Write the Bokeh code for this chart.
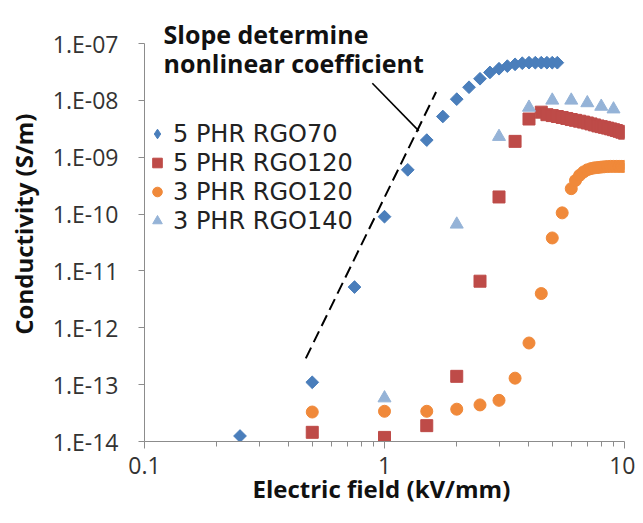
import math
from bokeh.plotting import figure
from bokeh.models import Range1d, FixedTicker, CustomJSTickFormatter, Label, Legend
from bokeh.embed import file_html
from bokeh.resources import INLINE

# ---------------- data ----------------
series_names = ["5 PHR RGO70", "5 PHR RGO120", "3 PHR RGO120", "3 PHR RGO140"]

x_rgo70_5 = [0.25, 0.5, 0.75, 1.0, 1.25, 1.5, 1.75, 2.0, 2.25, 2.5, 2.75, 3.0, 3.25, 3.5,
             3.75, 4.0, 4.25, 4.5, 4.75, 5.0, 5.25]
y_rgo70_5 = [1.25e-14, 1.1e-13, 5.2e-12, 9.0e-11, 6.0e-10, 2.0e-9, 5.2e-9, 1.05e-8, 1.7e-8,
             2.4e-8, 3.1e-8, 3.6e-8, 4.0e-8, 4.3e-8, 4.5e-8, 4.6e-8, 4.6e-8, 4.6e-8, 4.6e-8,
             4.6e-8, 4.6e-8]

x_rgo120_5 = [0.5, 1.0, 1.5, 2.0, 2.5, 3.0, 3.5, 4.0, 4.5, 4.75, 5.0, 5.25, 5.5, 5.75, 6.0,
              6.25, 6.5, 6.75, 7.0, 7.25, 7.5, 7.75, 8.0, 8.25, 8.5, 8.75, 9.0, 9.25, 9.5,
              9.75, 10.0]
y_rgo120_5 = [1.45e-14, 1.18e-14, 1.9e-14, 1.4e-13, 6.6e-12, 2.0e-10, 1.9e-9, 4.7e-9, 6.2e-9,
              5.6e-9, 5.4e-9, 5.2e-9, 5.0e-9, 4.8e-9, 4.6e-9, 4.45e-9, 4.3e-9, 4.15e-9, 4.0e-9,
              3.85e-9, 3.7e-9, 3.55e-9, 3.45e-9, 3.35e-9, 3.25e-9, 3.15e-9, 3.05e-9, 2.95e-9,
              2.85e-9, 2.75e-9, 2.65e-9]

x_rgo120_3 = [0.5, 1.0, 1.5, 2.0, 2.5, 3.0, 3.5, 4.0, 4.5, 5.0, 5.5, 6.0, 6.25, 6.5, 6.75,
              7.0, 7.25, 7.5, 7.75, 8.0, 8.25, 8.5, 8.75, 9.0, 9.25, 9.5, 9.75, 10.0]
y_rgo120_3 = [3.3e-14, 3.4e-14, 3.4e-14, 3.7e-14, 4.4e-14, 5.3e-14, 1.3e-13, 5.4e-13, 4.0e-12,
              3.8e-11, 1.05e-10, 2.8e-10, 3.9e-10, 4.8e-10, 5.5e-10, 6.0e-10, 6.3e-10, 6.5e-10,
              6.6e-10, 6.7e-10, 6.8e-10, 6.85e-10, 6.9e-10, 6.9e-10, 6.9e-10, 6.9e-10, 6.9e-10,
              6.9e-10]

x_rgo140_3 = [1.0, 2.0, 3.0, 4.0, 5.0, 6.0, 7.0, 8.0, 9.0]
y_rgo140_3 = [5.8e-14, 6.6e-11, 2.3e-9, 7.5e-9, 1.0e-8, 1.0e-8, 9.0e-9, 7.8e-9, 7.0e-9]

# slope guide line and annotation
slope_x = [0.47, 1.64]
slope_y = [2.9e-13, 1.4e-8]
pointer_x = [0.89, 1.39]
pointer_y = [2.0e-8, 2.9e-9]
note_lines = ["Slope determine", "nonlinear coefficient"]
note_x = 0.12
note_y = [1.44e-7, 4.45e-8]

x_ticks = [0.1, 1, 10]
x_tick_labels = ["0.1", "1", "10"]
x_minor = [0.2, 0.3, 0.4, 0.5, 0.6, 0.7, 0.8, 0.9, 2, 3, 4, 5, 6, 7, 8, 9]
y_ticks = [1e-14, 1e-13, 1e-12, 1e-11, 1e-10, 1e-9, 1e-8, 1e-7]
y_tick_labels = ["1.E-14", "1.E-13", "1.E-12", "1.E-11", "1.E-10", "1.E-09", "1.E-08", "1.E-07"]

x_title = "Electric field  (kV/mm)"
y_title = "Conductivity  (S/m)"

# ---------------- layout ----------------
W, H = 635, 507
BORDER_LEFT, BORDER_RIGHT, BORDER_BOTTOM = 144, 11, 66
AXIS_TOP_PX = 43          # pixel row of the 1e-7 tick; the frame reaches the canvas top
frame_h = H - BORDER_BOTTOM
y_lo, y_hi = y_ticks[0], y_ticks[-1]
decades = math.log10(y_hi) - math.log10(y_lo)
px_per_decade = (frame_h - AXIS_TOP_PX) / decades
y_top = 10 ** (math.log10(y_hi) + AXIS_TOP_PX / px_per_decade)

FONT = "Open Sans"
LEGEND_FONT = "DejaVu Sans"
p = figure(width=W, height=H, x_axis_type="log", y_axis_type="log",
           x_range=Range1d(x_ticks[0], x_ticks[-1]), y_range=Range1d(y_lo, y_top),
           output_backend="svg", toolbar_location=None,
           min_border_left=BORDER_LEFT, min_border_right=BORDER_RIGHT, min_border_top=0,
           min_border_bottom=BORDER_BOTTOM)
p.outline_line_color = None
p.xgrid.visible = False
p.ygrid.visible = False
p.background_fill_color = "white"
p.border_fill_color = "white"

fmt_code = """
let best = 0, bd = Infinity;
for (let i = 0; i < vals.length; i++) {
  const d = Math.abs(Math.log10(vals[i]) - Math.log10(tick));
  if (d < bd) { bd = d; best = i; }
}
return labs[best];
"""

AXIS_GRAY = "#8c8c8c"
ax = p.xaxis[0]
ax.ticker = FixedTicker(ticks=x_ticks, minor_ticks=x_minor)
ax.formatter = CustomJSTickFormatter(args=dict(vals=x_ticks, labs=x_tick_labels), code=fmt_code)
ax.axis_label = x_title
ax.axis_label_text_font = FONT
ax.axis_label_text_font_style = "bold"
ax.axis_label_text_font_size = "24px"
ax.axis_label_text_color = "#111111"
ax.axis_label_standoff = -5
ax.major_label_text_font = FONT
ax.major_label_text_font_size = "23px"
ax.major_label_text_color = "#333333"
ax.major_label_standoff = 8
ax.axis_line_color = AXIS_GRAY
ax.major_tick_line_color = AXIS_GRAY
ax.minor_tick_line_color = AXIS_GRAY
ax.major_tick_in = 0
ax.major_tick_out = 7
ax.minor_tick_in = 0
ax.minor_tick_out = 5

ay = p.yaxis[0]
ay.ticker = FixedTicker(ticks=y_ticks, minor_ticks=[])
ay.formatter = CustomJSTickFormatter(args=dict(vals=y_ticks, labs=y_tick_labels), code=fmt_code)
ay.bounds = (y_lo, y_hi)
ay.axis_label = y_title
ay.axis_label_text_font = FONT
ay.axis_label_text_font_style = "bold"
ay.axis_label_text_font_size = "24px"
ay.axis_label_text_color = "#111111"
ay.axis_label_standoff = 10
ay.major_label_text_font = FONT
ay.major_label_text_font_size = "23px"
ay.major_label_text_color = "#333333"
ay.major_label_standoff = 20
ay.axis_line_color = AXIS_GRAY
ay.major_tick_line_color = AXIS_GRAY
ay.major_tick_in = 0
ay.major_tick_out = 6

# guide lines
p.line(slope_x, slope_y, line_color="black", line_width=2, line_dash="12 6")
p.line(pointer_x, pointer_y, line_color="black", line_width=1.6)

colors = ["#4A7EBB", "#BE4B48", "#F0893A", "#95B3D7"]
# diamond glyph (also used as the legend swatch), covered by the rotated squares
r1_key = p.scatter(x_rgo70_5, y_rgo70_5, marker="diamond", size=11,
                   fill_color=colors[0], line_color=colors[0])
r1 = p.scatter(x_rgo70_5, y_rgo70_5, marker="square", angle=math.pi / 4, size=9,
               fill_color=colors[0], line_color=colors[0])
r2 = p.scatter(x_rgo120_5, y_rgo120_5, marker="square", size=12,
               fill_color=colors[1], line_color=colors[1])
r3 = p.scatter(x_rgo120_3, y_rgo120_3, marker="circle", size=12,
               fill_color=colors[2], line_color=colors[2])
r4 = p.scatter(x_rgo140_3, y_rgo140_3, marker="triangle", size=13,
               fill_color=colors[3], line_color=colors[3])

legend = Legend(items=[(series_names[0], [r1_key]), (series_names[1], [r2]),
                       (series_names[2], [r3]), (series_names[3], [r4])],
                location=(1, 206), margin=0, padding=0, spacing=0,
                glyph_width=24, glyph_height=29, label_height=29, label_standoff=4,
                label_text_font=LEGEND_FONT, label_text_font_size="24px",
                label_text_color="#222222",
                border_line_color=None, background_fill_alpha=0)
p.add_layout(legend, "center")

for txt, yy in zip(note_lines, note_y):
    p.add_layout(Label(x=note_x, y=yy, text=txt, text_font=FONT, text_font_style="bold",
                       text_font_size="25px", text_color="#111111", text_baseline="alphabetic",
                       text_align="left"))

open("out.html", "w").write(file_html(p, INLINE))
